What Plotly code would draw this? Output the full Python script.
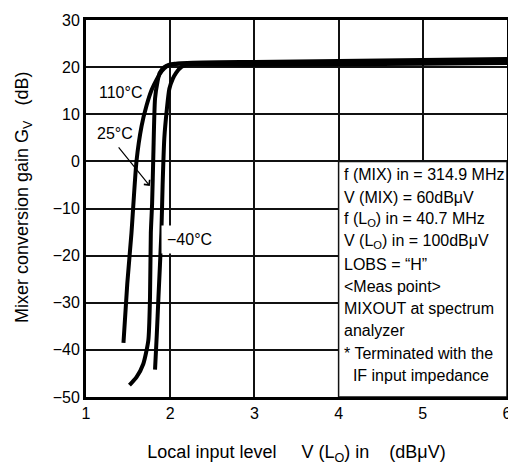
import plotly.graph_objects as go

# curves: local input level (dBuV) vs conversion gain (dB)
x_110 = [1.445, 1.49, 1.54, 1.60, 1.66, 1.72, 1.78, 1.84, 1.90, 1.96, 2.05, 2.2, 3.0, 4.0, 5.0, 6.0]
y_110 = [-38.5, -26.0, -15.2, 0.1, 7.5, 11.9, 15.2, 17.4, 19.2, 20.2, 20.7, 20.9, 21.1, 21.3, 21.5, 21.7]

x_25 = [1.516, 1.60, 1.68, 1.74, 1.76, 1.77, 1.785, 1.80, 1.82, 1.85, 1.875, 1.93, 1.99, 2.1, 3.0, 4.0, 5.0, 6.0]
y_25 = [-47.5, -45.8, -43.0, -38.0, -29.0, -15.2, -9.0, 1.5, 13.3, 17.0, 18.8, 20.0, 20.5, 20.7, 20.9, 21.0, 21.2, 21.4]

x_m40 = [1.82, 1.84, 1.86, 1.895, 1.91, 1.93, 1.96, 1.99, 2.03, 2.07, 2.13, 2.19, 2.3, 3.0, 4.0, 5.0, 6.0]
y_m40 = [-44.2, -37.0, -29.0, -15.2, -5.0, 4.9, 11.0, 15.4, 17.5, 18.8, 20.0, 20.5, 20.6, 20.5, 20.6, 20.7, 20.9]

x_ticks = [1, 2, 3, 4, 5, 6]
y_ticks = [30, 20, 10, 0, -10, -20, -30, -40, -50]
y_tick_text = ["30", "20", "10", "0", "\u221210", "\u221220", "\u221230", "\u221240", "\u221250"]

cond_lines = [
    "f (MIX) in = 314.9 MHz",
    "V (MIX) = 60dB\u03bcV",
    "f (L<sub>O</sub>) in = 40.7 MHz",
    "V (L<sub>O</sub>) in = 100dB\u03bcV",
    "LOBS = \u201cH\u201d",
    "&lt;Meas point&gt;",
    "MIXOUT at spectrum",
    "analyzer",
    "* Terminated with the",
    "\u00a0\u00a0IF input impedance",
]

FONT = "Liberation Sans, Arial, sans-serif"
SP = "\u00a0"

fig = go.Figure()
for xs, ys in [(x_110, y_110), (x_25, y_25), (x_m40, y_m40)]:
    fig.add_trace(go.Scatter(x=xs, y=ys, mode="lines",
                             line=dict(color="black", width=4, shape="spline", smoothing=0.6),
                             showlegend=False, hoverinfo="skip"))

# white box holding the measurement conditions
fig.add_shape(type="rect", x0=4, x1=6, y0=-50, y1=0, xref="x", yref="y",
              fillcolor="white", line=dict(color="#111", width=1.5), layer="above")

step = 4.73
for i, t in enumerate(cond_lines):
    fig.add_annotation(x=4, y=-3.3 - i * step, xref="x", yref="y", text=t,
                       showarrow=False, xanchor="left", yanchor="middle", xshift=3, yshift=2,
                       font=dict(family=FONT, size=16, color="black"))

fig.add_annotation(x=1.407, y=14.2, text="110\u00b0C", showarrow=False, yshift=2,
                   font=dict(family=FONT, size=16, color="black"))
fig.add_annotation(x=1.34, y=5.4, text="25\u00b0C", showarrow=False, yshift=2,
                   font=dict(family=FONT, size=16, color="black"))
fig.add_annotation(x=1.758, y=-5.2, ax=1.373, ay=3.3, xref="x", yref="y", axref="x", ayref="y",
                   text="", showarrow=True, arrowhead=4, arrowsize=1.2, arrowwidth=1.2, arrowcolor="black")
fig.add_annotation(x=2.227, y=-16.9, text="\u221240\u00b0C", showarrow=False, bgcolor="white",
                   borderpad=5, yshift=2, font=dict(family=FONT, size=16, color="black"))

# y title as a rotated annotation so it can sit a bit above the plot centre like the original
fig.add_annotation(x=0, y=0.529, xref="paper", yref="paper", xshift=-76, textangle=-90,
                   text="Mixer conversion gain G<sub>V</sub>" + SP * 3 + "(dB)", showarrow=False,
                   font=dict(family=FONT, size=18, color="black"))

fig.update_xaxes(range=[1, 6], tickvals=x_ticks, showgrid=True, gridcolor="#111", gridwidth=1.6,
                 showline=True, linecolor="black", linewidth=3, mirror=True, zeroline=False,
                 ticks="", ticklabeloverflow="allow",
                 tickfont=dict(family=FONT, size=16, color="black"),
                 title=dict(text="Local input level" + SP * 5 + "V (L<sub>O</sub>) in" + SP * 4 + "(dB\u03bcV)",
                            font=dict(family=FONT, size=18, color="black"), standoff=25))
fig.update_yaxes(range=[-50, 30], tickvals=y_ticks, ticktext=y_tick_text, showgrid=True,
                 gridcolor="#111", gridwidth=1.6, showline=True, linecolor="black", linewidth=3,
                 mirror=True, zeroline=False, ticks="", ticklabeloverflow="allow",
                 tickfont=dict(family=FONT, size=16, color="black"))
# page body adds an 8px offset, so the figure is a little smaller than the window
fig.update_layout(width=508, height=461, margin=dict(l=78, r=4, t=5, b=72),
                  plot_bgcolor="white", paper_bgcolor="white")
fig.write_html("out.html")
